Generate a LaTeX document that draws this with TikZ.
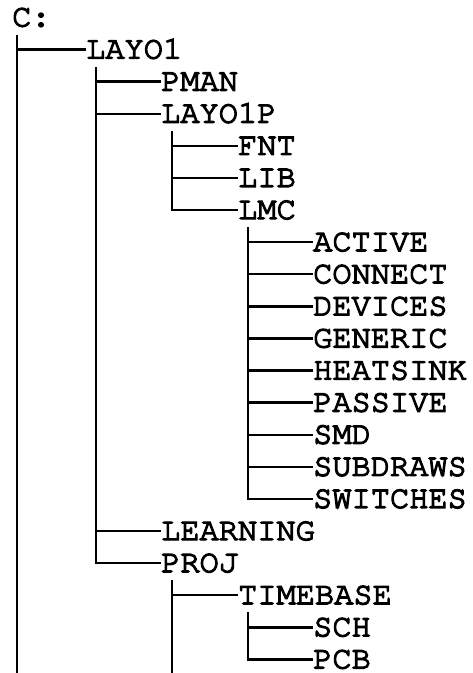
\documentclass[tikz,border=0pt]{standalone}
\usepackage[T1]{fontenc}
\usepackage{courier}
\begin{document}
\begin{tikzpicture}[x=1pt,y=-1pt,
  % typewriter names, thickened by also stroking the glyph outlines
  dir/.style={anchor=west, inner sep=0pt, text height=18pt, text depth=0pt,
    font=\fontfamily{pcr}\fontsize{32}{32}\selectfont,
    execute at begin node=\special{pdf:code 2 Tr 1.3 w},
    execute at end node=\special{pdf:code 0 Tr}},
  branch/.style={line width=2.4pt, line join=miter}]
\useasboundingbox[fill=white] (0,0) rectangle (472,673);

% directory names
\node[dir] (c)        at (12,17.4)  {C:};
\node[dir] (layo1)    at (86,49.5)  {LAYO1};
\node[dir] (pman)     at (161,81.6) {PMAN};
\node[dir] (layo1p)   at (161,113.7) {LAYO1P};
\node[dir] (fnt)      at (238,145.8) {FNT};
\node[dir] (lib)      at (238,177.9) {LIB};
\node[dir] (lmc)      at (238,210)   {LMC};
\node[dir] (active)   at (313,242.1) {ACTIVE};
\node[dir] (connect)  at (313,274.2) {CONNECT};
\node[dir] (devices)  at (313,306.3) {DEVICES};
\node[dir] (generic)  at (313,338.4) {GENERIC};
\node[dir] (heatsink) at (313,370.5) {HEATSINK};
\node[dir] (passive)  at (313,402.6) {PASSIVE};
\node[dir] (smd)      at (313,434.7) {SMD};
\node[dir] (subdraws) at (313,466.8) {SUBDRAWS};
\node[dir] (switches) at (313,498.9) {SWITCHES};
\node[dir] (learning) at (161,531)   {LEARNING};
\node[dir] (proj)     at (161,563.1) {PROJ};
\node[dir] (timebase) at (238,595.2) {TIMEBASE};
\node[dir] (sch)      at (313,627.3) {SCH};
\node[dir] (pcb)      at (313,659.4) {PCB};

% tops of the vertical trunks
\coordinate (c-top)        at (17,35);
\coordinate (c-end)        at (17,673);
\coordinate (layo1-top)    at (96,67);
\coordinate (layo1p-top)   at (172,131);
\coordinate (lmc-top)      at (248,227);
\coordinate (proj-top)     at (172,580);
\coordinate (proj-end)     at (172,673);
\coordinate (timebase-top) at (248,612);

% branches
\draw[branch] (c-top) -- (c-end);
\draw[branch] (c-top) |- (layo1.west);

\foreach \d in {pman,layo1p,learning,proj}
  \draw[branch] (layo1-top) |- (\d.west);

\foreach \d in {fnt,lib,lmc}
  \draw[branch] (layo1p-top) |- (\d.west);

\foreach \d in {active,connect,devices,generic,heatsink,passive,smd,subdraws,switches}
  \draw[branch] (lmc-top) |- (\d.west);

\draw[branch] (proj-top) -- (proj-end);
\draw[branch] (proj-top) |- (timebase.west);

\foreach \d in {sch,pcb}
  \draw[branch] (timebase-top) |- (\d.west);
\end{tikzpicture}
\end{document}
